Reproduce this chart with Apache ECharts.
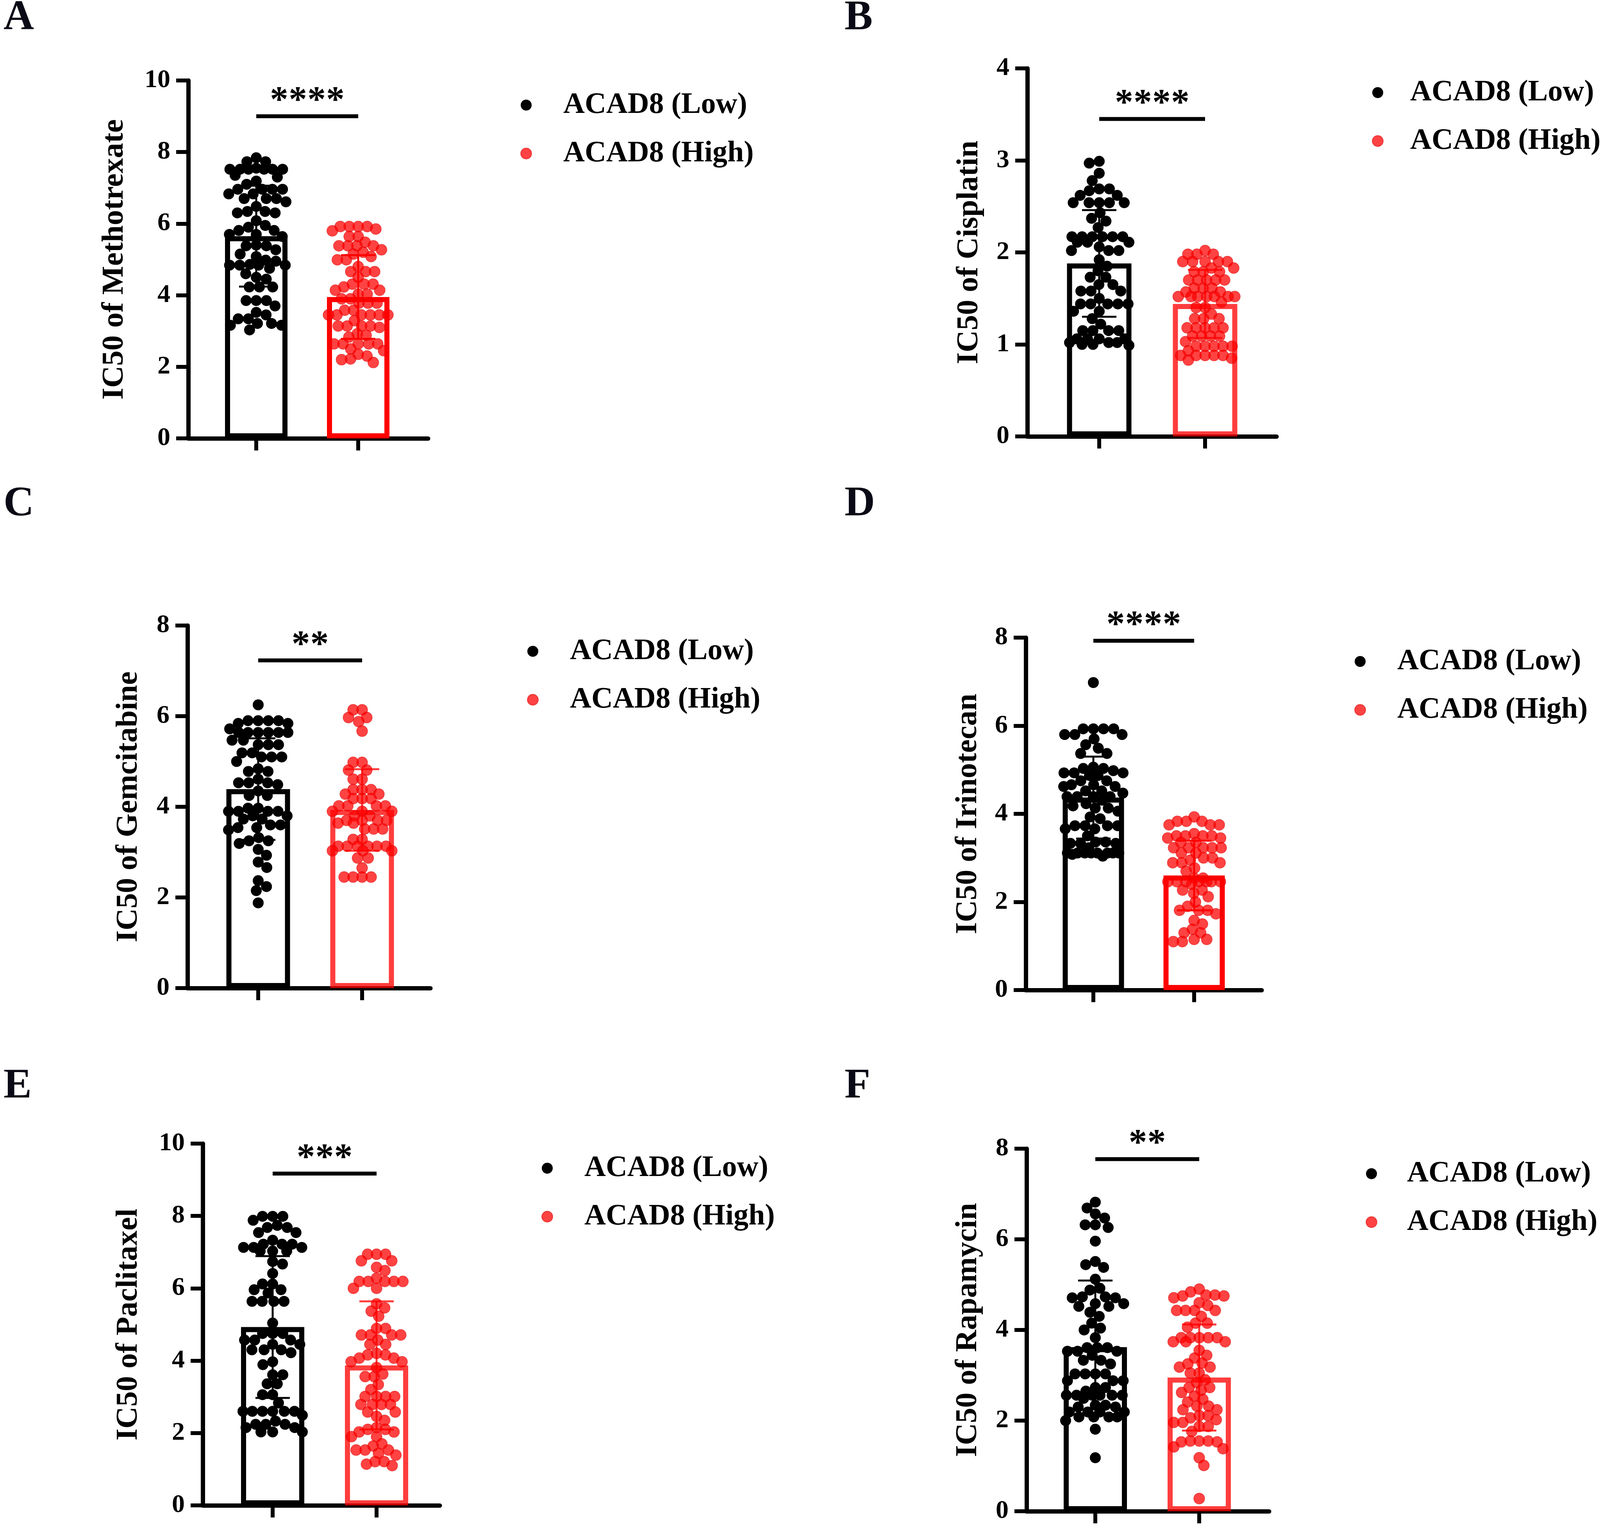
<!DOCTYPE html>
<html><head><meta charset="utf-8">
<script src="https://cdn.jsdelivr.net/npm/echarts@6/dist/echarts.min.js"></script>
<style>html,body{margin:0;padding:0;background:#fff;overflow:hidden}#c{width:4134px;height:3916px}</style>
</head><body><div id="c"></div>
<script>
// ---------------- data ----------------
const groups = ['ACAD8 (Low)', 'ACAD8 (High)'];
const panelLetters = ['A', 'B', 'C', 'D', 'E', 'F'];
const drugTitles = ['IC50 of Methotrexate', 'IC50 of Cisplatin', 'IC50 of Gemcitabine', 'IC50 of Irinotecan', 'IC50 of Paclitaxel', 'IC50 of Rapamycin'];
const yMax = [10, 4, 8, 8, 10, 8];
const yStep = [2, 1, 2, 2, 2, 2];
const meanLow = [5.65, 1.88, 4.39, 4.37, 4.93, 3.62];
const sdLow = [1.41, 0.58, 1.12, 0.93, 1.96, 1.47];
const meanHigh = [3.95, 1.44, 3.93, 2.60, 3.87, 2.95];
const sdHigh = [1.17, 0.37, 0.90, 0.79, 1.77, 1.17];
const sigLevel = [9.0, 3.45, 7.23, 7.93, 9.17, 7.77];
const sigStars = ['****', '****', '**', '****', '***', '**'];

const lowA = [7.84, 7.73, 7.73, 7.55, 7.52, 7.52, 7.52, 7.52, 7.52, 7.52, 7.35, 7.3, 7.19, 7.1, 6.96, 6.96, 6.96, 6.96, 6.83, 6.83, 6.7, 6.7, 6.7, 6.61, 6.48, 6.34, 6.34, 6.3, 6.3, 6.08, 5.95, 5.9, 5.81, 5.81, 5.7, 5.7, 5.64, 5.38, 5.38, 5.4, 5.27, 5.15, 5.08, 4.98, 4.95, 4.84, 4.84, 4.84, 4.84, 4.86, 4.75, 4.6, 4.5, 4.45, 4.23, 4.23, 4.23, 3.85, 3.85, 3.85, 3.7, 3.52, 3.45, 3.34, 3.34, 3.21, 3.21, 3.16, 3.16, 3.03];
const highA = [5.92, 5.92, 5.92, 5.92, 5.85, 5.8, 5.64, 5.64, 5.48, 5.38, 5.38, 5.38, 5.38, 5.27, 5.2, 5.15, 5.08, 4.99, 4.99, 4.8, 4.66, 4.66, 4.66, 4.5, 4.31, 4.31, 4.31, 4.23, 4.14, 4.14, 4.03, 4.03, 3.9, 3.9, 3.78, 3.78, 3.78, 3.58, 3.58, 3.45, 3.45, 3.45, 3.45, 3.45, 3.45, 3.29, 3.14, 3.14, 3.14, 3.14, 3.1, 2.92, 2.88, 2.83, 2.64, 2.64, 2.64, 2.64, 2.64, 2.5, 2.45, 2.35, 2.3, 2.22, 2.2, 2.12];
const lowB = [2.99, 2.97, 2.86, 2.78, 2.69, 2.69, 2.67, 2.62, 2.62, 2.54, 2.54, 2.54, 2.54, 2.54, 2.43, 2.37, 2.34, 2.27, 2.17, 2.17, 2.17, 2.17, 2.17, 2.17, 2.11, 2.11, 2.11, 2.06, 2.02, 2.02, 2.02, 1.92, 1.85, 1.8, 1.73, 1.73, 1.65, 1.65, 1.58, 1.58, 1.58, 1.5, 1.44, 1.44, 1.44, 1.44, 1.44, 1.36, 1.36, 1.28, 1.22, 1.15, 1.15, 1.15, 1.15, 1.06, 1.06, 1.06, 1.06, 1.02, 1.02, 1.02, 1.0, 1.0, 0.99];
const highB = [2.02, 1.98, 1.98, 1.98, 1.9, 1.9, 1.9, 1.9, 1.9, 1.83, 1.83, 1.79, 1.79, 1.79, 1.7, 1.7, 1.7, 1.7, 1.7, 1.61, 1.61, 1.61, 1.57, 1.57, 1.52, 1.52, 1.52, 1.52, 1.52, 1.52, 1.52, 1.46, 1.4, 1.4, 1.33, 1.28, 1.28, 1.28, 1.18, 1.18, 1.18, 1.18, 1.18, 1.09, 1.09, 1.09, 1.09, 1.03, 0.98, 0.98, 0.98, 0.98, 0.98, 0.93, 0.88, 0.88, 0.88, 0.88, 0.88, 0.85, 0.83];
const lowC = [6.25, 5.9, 5.9, 5.9, 5.9, 5.84, 5.84, 5.72, 5.64, 5.64, 5.64, 5.64, 5.64, 5.64, 5.47, 5.47, 5.37, 5.37, 5.37, 5.19, 5.19, 5.1, 5.1, 5.1, 5.0, 4.84, 4.78, 4.78, 4.61, 4.53, 4.53, 4.53, 4.49, 4.35, 4.25, 4.25, 3.97, 3.97, 3.9, 3.9, 3.9, 3.9, 3.8, 3.8, 3.73, 3.73, 3.6, 3.6, 3.54, 3.54, 3.49, 3.32, 3.25, 3.25, 3.19, 3.06, 2.93, 2.78, 2.66, 2.37, 2.24, 2.15, 1.88];
const highC = [6.14, 6.14, 5.97, 5.97, 5.88, 5.67, 4.98, 4.98, 4.81, 4.81, 4.61, 4.61, 4.38, 4.38, 4.38, 4.28, 4.28, 4.18, 4.18, 4.18, 4.02, 4.02, 4.02, 4.02, 3.9, 3.9, 3.9, 3.8, 3.8, 3.7, 3.7, 3.7, 3.7, 3.64, 3.64, 3.51, 3.51, 3.51, 3.28, 3.28, 3.13, 3.13, 3.13, 3.13, 3.13, 3.13, 3.03, 3.03, 3.03, 2.87, 2.87, 2.65, 2.45, 2.45, 2.45, 2.45];
const lowD = [6.98, 5.93, 5.93, 5.93, 5.93, 5.8, 5.8, 5.8, 5.7, 5.57, 5.49, 5.37, 5.37, 5.06, 5.03, 5.03, 4.98, 4.93, 4.93, 4.93, 4.87, 4.87, 4.75, 4.75, 4.66, 4.66, 4.62, 4.62, 4.52, 4.52, 4.47, 4.39, 4.39, 4.39, 4.39, 4.31, 4.23, 4.18, 4.13, 4.13, 4.06, 3.93, 3.89, 3.73, 3.73, 3.73, 3.73, 3.66, 3.66, 3.5, 3.36, 3.36, 3.33, 3.33, 3.33, 3.23, 3.11, 3.11, 3.11, 3.11, 3.11, 3.11, 3.11, 3.11, 3.08, 3.04];
const highD = [3.93, 3.83, 3.83, 3.83, 3.75, 3.75, 3.75, 3.55, 3.5, 3.5, 3.5, 3.5, 3.45, 3.45, 3.35, 3.35, 3.23, 3.23, 3.23, 3.23, 3.23, 3.11, 3.11, 3.0, 3.0, 2.95, 2.89, 2.89, 2.89, 2.77, 2.7, 2.54, 2.54, 2.46, 2.46, 2.46, 2.46, 2.46, 2.46, 2.46, 2.4, 2.27, 2.27, 2.2, 2.12, 2.0, 1.9, 1.81, 1.81, 1.81, 1.73, 1.58, 1.5, 1.38, 1.3, 1.3, 1.15, 1.15, 1.1, 1.1];
const lowE = [7.99, 7.99, 7.99, 7.88, 7.74, 7.68, 7.68, 7.54, 7.54, 7.33, 7.22, 7.22, 7.22, 7.13, 7.13, 7.13, 7.03, 7.03, 7.03, 6.74, 6.67, 6.41, 6.12, 6.12, 5.96, 5.96, 5.87, 5.64, 5.64, 5.64, 5.64, 5.04, 4.75, 4.75, 4.75, 4.57, 4.57, 4.57, 4.45, 4.45, 4.3, 4.3, 4.3, 4.22, 3.97, 3.89, 3.61, 3.61, 3.36, 3.36, 3.06, 3.06, 2.83, 2.6, 2.6, 2.6, 2.6, 2.6, 2.6, 2.49, 2.33, 2.24, 2.24, 2.24, 2.15, 2.15, 2.03, 2.03, 2.03];
const highE = [6.94, 6.94, 6.94, 6.76, 6.76, 6.58, 6.49, 6.28, 6.19, 6.19, 6.19, 6.19, 6.19, 6.0, 6.0, 5.57, 5.46, 5.37, 5.23, 4.89, 4.89, 4.71, 4.71, 4.71, 4.71, 4.57, 4.45, 4.45, 4.2, 4.16, 4.16, 4.07, 4.07, 3.97, 3.97, 3.81, 3.63, 3.56, 3.56, 3.34, 3.2, 3.01, 3.01, 3.01, 3.01, 2.79, 2.79, 2.79, 2.79, 2.58, 2.58, 2.46, 2.35, 2.15, 2.1, 2.1, 2.03, 2.03, 1.9, 1.9, 1.7, 1.64, 1.53, 1.53, 1.53, 1.44, 1.39, 1.21, 1.21, 1.14, 1.1];
const lowF = [6.82, 6.69, 6.56, 6.47, 6.32, 6.32, 6.26, 5.96, 5.51, 5.44, 5.38, 5.12, 4.92, 4.88, 4.73, 4.73, 4.71, 4.71, 4.58, 4.58, 4.52, 4.52, 4.39, 4.3, 4.15, 4.04, 4.0, 3.83, 3.61, 3.61, 3.61, 3.53, 3.53, 3.53, 3.44, 3.33, 3.33, 3.25, 3.03, 3.03, 3.03, 3.03, 2.88, 2.88, 2.88, 2.73, 2.73, 2.65, 2.56, 2.56, 2.56, 2.56, 2.56, 2.56, 2.49, 2.34, 2.34, 2.3, 2.3, 2.19, 2.19, 2.19, 2.19, 2.08, 2.08, 2.08, 2.08, 2.0, 1.81, 1.18];
const highF = [4.9, 4.84, 4.77, 4.77, 4.75, 4.75, 4.71, 4.6, 4.54, 4.43, 4.43, 4.43, 4.43, 4.3, 4.15, 4.15, 4.06, 3.83, 3.83, 3.83, 3.83, 3.83, 3.74, 3.74, 3.74, 3.55, 3.44, 3.38, 3.27, 3.25, 3.18, 3.18, 3.05, 3.05, 2.9, 2.84, 2.73, 2.73, 2.67, 2.62, 2.54, 2.47, 2.41, 2.32, 2.32, 2.24, 2.24, 2.11, 2.11, 2.06, 2.02, 1.96, 1.96, 1.87, 1.87, 1.76, 1.55, 1.55, 1.55, 1.53, 1.53, 1.42, 1.38, 1.18, 1.01, 0.28];

const lowSets = [lowA, lowB, lowC, lowD, lowE, lowF];
const highSets = [highA, highB, highC, highD, highE, highF];

// ---------------- layout (pixels) ----------------
const layout = [
  {axisX: 482, top: 206, bottom: 1122, xEnd: 1096, c1: 656, c2: 917, barW: 173, titleX: 294, legX: 1346, legY: 269, legPad: 76, letterX: 9, letterTop: -7, highColor: '#ff0000'},
  {axisX: 2630, top: 175, bottom: 1117, xEnd: 3268, c1: 2814, c2: 3085, barW: 178, titleX: 2482, legX: 3526, legY: 237, legPad: 64, letterX: 2162, letterTop: -7, highColor: 'rgba(255,0,0,0.76)'},
  {axisX: 480, top: 1601, bottom: 2529, xEnd: 1102, c1: 661, c2: 927, barW: 176, titleX: 330, legX: 1363, legY: 1667, legPad: 76, letterX: 9, letterTop: 1237, highColor: 'rgba(255,0,0,0.76)'},
  {axisX: 2626, top: 1632, bottom: 2534, xEnd: 3230, c1: 2799, c2: 3057, barW: 170, titleX: 2479, legX: 3481, legY: 1693, legPad: 76, letterX: 2162, letterTop: 1237, highColor: '#ff0000'},
  {axisX: 519, top: 2927, bottom: 3853, xEnd: 1126, c1: 698, c2: 964, barW: 175, titleX: 330, legX: 1400, legY: 2990, legPad: 76, letterX: 9, letterTop: 2727, highColor: 'rgba(255,0,0,0.76)'},
  {axisX: 2628, top: 2940, bottom: 3868, xEnd: 3249, c1: 2804, c2: 3070, barW: 175, titleX: 2479, legX: 3510, legY: 3004, legPad: 72, letterX: 2162, letterTop: 2727, highColor: 'rgba(255,0,0,0.76)'}
];

const FONT = "'Liberation Serif', 'Times New Roman', Times, serif";
const DOT = 28;
const BORDER = 13;
const RED_DOT = 'rgba(255,0,0,0.74)';

// beeswarm offsets (pixels) so that points spread inside the bar like the original
function swarm(values, pxPerUnit, D, maxHalf) {
  const idx = values.map((v, i) => i).sort((a, b) => values[b] - values[a]);
  const placed = [];
  const off = new Array(values.length);
  let flip = 1;
  for (const i of idx) {
    const y = values[i] * pxPerUnit;
    const near = placed.filter(p => Math.abs(p.y - y) < D);
    const cands = [0];
    near.forEach(p => {
      const dx = Math.sqrt(D * D - (p.y - y) * (p.y - y));
      cands.push(p.x + dx, p.x - dx);
    });
    const ok = cands.filter(x => near.every(p => (p.x - x) * (p.x - x) + (p.y - y) * (p.y - y) >= D * D - 0.01));
    ok.sort((a, b) => (Math.abs(a) - Math.abs(b)) || (b - a) * flip);
    let x = ok.length ? ok[0] : 0;
    if (Math.abs(x) > maxHalf) {
      let best = 0, bestC = -1;
      for (let s = -maxHalf; s <= maxHalf; s += 2) {
        const c = Math.min(...near.map(p => Math.hypot(p.x - s, p.y - y)));
        if (c > bestC) { bestC = c; best = s; }
      }
      x = best;
    }
    flip = -flip;
    placed.push({x, y});
    off[i] = x;
  }
  return off;
}

const grids = [], xAxes = [], yAxes = [], series = [], legends = [], titles = [];

layout.forEach((L, i) => {
  const sp = L.c2 - L.c1;
  const xmin = 1 - (L.c1 - L.axisX) / sp;
  const xmax = xmin + (L.xEnd - L.axisX) / sp;
  const pxPerUnit = (L.bottom - L.top) / yMax[i];
  grids.push({left: L.axisX, top: L.top, width: L.xEnd - L.axisX, height: L.bottom - L.top, containLabel: false});
  xAxes.push({
    gridIndex: i, type: 'value', min: xmin, max: xmax,
    axisLine: {show: true, lineStyle: {color: '#000', width: 11}},
    axisTick: {show: true, customValues: [1, 2], length: 31, lineStyle: {color: '#000', width: 10}},
    axisLabel: {show: false}, splitLine: {show: false}
  });
  yAxes.push({
    gridIndex: i, type: 'value', min: 0, max: yMax[i], interval: yStep[i],
    axisLine: {show: true, lineStyle: {color: '#000', width: 11}},
    axisTick: {show: true, length: 31, lineStyle: {color: '#000', width: 10}},
    axisLabel: {fontSize: 66, fontWeight: 'bold', fontFamily: FONT, color: '#000', margin: 46},
    splitLine: {show: false},
    name: drugTitles[i], nameLocation: 'middle', nameGap: L.axisX - L.titleX - 39,
    nameTextStyle: {fontSize: 78, fontWeight: 'bold', fontFamily: FONT, color: '#000'}
  });

  // bars (means)
  series.push({
    type: 'bar', xAxisIndex: i, yAxisIndex: i, barWidth: L.barW - BORDER, silent: true, z: 1,
    data: [
      {value: [1, meanLow[i]], itemStyle: {color: 'rgba(0,0,0,0)', borderColor: '#000', borderWidth: BORDER}},
      {value: [2, meanHigh[i]], itemStyle: {color: 'rgba(0,0,0,0)', borderColor: L.highColor, borderWidth: BORDER}}
    ]
  });

  // points
  const offL = swarm(lowSets[i], pxPerUnit, 26, 76);
  const offH = swarm(highSets[i], pxPerUnit, 23, 76);
  series.push({
    name: groups[0], type: 'scatter', xAxisIndex: i, yAxisIndex: i, symbol: 'circle', symbolSize: DOT, z: 2,
    itemStyle: {color: '#000', opacity: 1},
    data: lowSets[i].map((v, k) => [1 + offL[k] / sp, v])
  });
  series.push({
    name: groups[1], type: 'scatter', xAxisIndex: i, yAxisIndex: i, symbol: 'circle', symbolSize: DOT, z: 2,
    itemStyle: {color: RED_DOT, borderColor: 'rgba(215,0,0,0.55)', borderWidth: 1.5, opacity: 1},
    data: highSets[i].map((v, k) => [2 + offH[k] / sp, v])
  });

  // error bars (mean ± SD)
  const errColors = ['#000', L.highColor];
  series.push({
    type: 'custom', xAxisIndex: i, yAxisIndex: i, z: 3, silent: true,
    encode: {x: 0, y: [1, 2]},
    data: [[1, meanLow[i] - sdLow[i], meanLow[i] + sdLow[i]], [2, meanHigh[i] - sdHigh[i], meanHigh[i] + sdHigh[i]]],
    renderItem: function (params, api) {
      const x = api.value(0);
      const pT = api.coord([x, api.value(2)]);
      const pB = api.coord([x, api.value(1)]);
      const col = errColors[params.dataIndex];
      const h = 44;
      const st = {stroke: col, lineWidth: 5};
      return {type: 'group', children: [
        {type: 'line', shape: {x1: pT[0], y1: pT[1], x2: pB[0], y2: pB[1]}, style: st},
        {type: 'line', shape: {x1: pT[0] - h, y1: pT[1], x2: pT[0] + h, y2: pT[1]}, style: st},
        {type: 'line', shape: {x1: pB[0] - h, y1: pB[1], x2: pB[0] + h, y2: pB[1]}, style: st}
      ]};
    }
  });

  // significance bracket
  const stars = sigStars[i];
  series.push({
    type: 'custom', xAxisIndex: i, yAxisIndex: i, z: 3, silent: true,
    encode: {x: [0, 1], y: 2},
    data: [[1, 2, sigLevel[i]]],
    renderItem: function (params, api) {
      const p1 = api.coord([api.value(0), api.value(2)]);
      const p2 = api.coord([api.value(1), api.value(2)]);
      const mid = (p1[0] + p2[0]) / 2;
      const pitch = 48;
      const n = stars.length;
      const children = [{type: 'line', shape: {x1: p1[0], y1: p1[1], x2: p2[0], y2: p2[1]}, style: {stroke: '#000', lineWidth: 10}}];
      for (let k = 0; k < n; k++) {
        children.push({type: 'text', style: {
          text: '*', x: mid + (k - (n - 1) / 2) * pitch, y: p1[1] - 38,
          fill: '#000', font: 'bold 94px ' + FONT, textAlign: 'center', textVerticalAlign: 'middle'
        }});
      }
      return {type: 'group', children};
    }
  });

  legends.push({
    orient: 'vertical', left: L.legX - DOT / 2, top: L.legY - 38, itemWidth: DOT, itemHeight: DOT, itemGap: 48,
    icon: 'circle', selectedMode: false, data: groups, padding: 0,
    textStyle: {fontSize: 76, fontWeight: 'bold', fontFamily: FONT, color: '#000', lineHeight: 76, padding: [0, 0, 0, L.legPad]}
  });

  titles.push({
    text: panelLetters[i], left: L.letterX, top: L.letterTop, padding: 0,
    textStyle: {fontSize: 108, fontWeight: 'bold', fontFamily: FONT, color: '#0a0a16'}
  });
});

const chart = echarts.init(document.getElementById('c'), null, {renderer: 'canvas'});
chart.setOption({
  backgroundColor: '#ffffff',
  animation: false,
  title: titles,
  legend: legends,
  grid: grids,
  xAxis: xAxes,
  yAxis: yAxes,
  series: series
});
</script>
</body></html>
